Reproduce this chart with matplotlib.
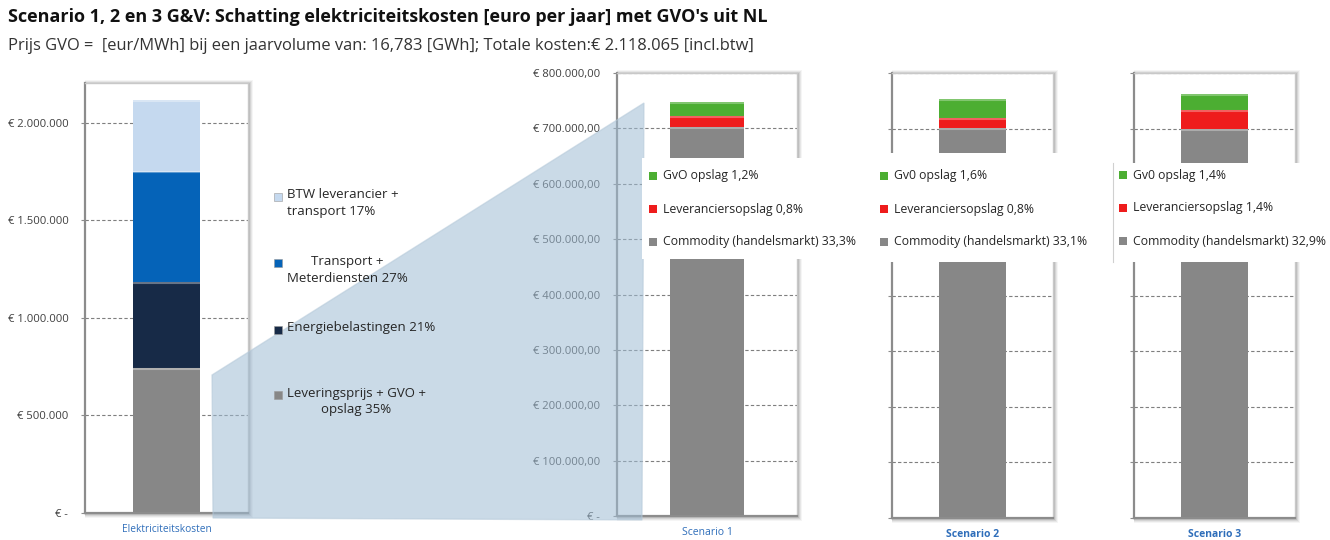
import matplotlib
matplotlib.use("Agg")
from matplotlib import pyplot as plt
from matplotlib.patches import Polygon, Rectangle
from matplotlib.ticker import FuncFormatter, MultipleLocator

plt.rcParams['font.family'] = ['Open Sans', 'DejaVu Sans']

W, H = 1330, 540

# left chart: total cost split (euro per year)
total_labels = ["Leveringsprijs + GVO +\nopslag 35%", "Energiebelastingen 21%",
                "Transport +\nMeterdiensten 27%", "BTW leverancier +\ntransport 17%"]
total_values = [741323, 444794, 565000, 366948]
total_colors = ["#878787", "#172a47", "#0563b8", "#c5d9ef"]
total_category = "Elektriciteitskosten"

# scenario charts
scenarios = ["Scenario 1", "Scenario 2", "Scenario 3"]
commodity = [703000, 702000, 700000]
leverancier = [19000, 18000, 33000]
gvo_opslag = [26000, 34000, 30000]
scen_colors = ["#878787", "#ee1c1c", "#4cae32"]
scen_legends = [
    ["GvO opslag 1,2%", "Leveranciersopslag 0,8%", "Commodity (handelsmarkt) 33,3%"],
    ["Gv0 opslag 1,6%", "Leveranciersopslag 0,8%", "Commodity (handelsmarkt) 33,1%"],
    ["Gv0 opslag 1,4%", "Leveranciersopslag 1,4%", "Commodity (handelsmarkt) 32,9%"],
]

fig = plt.figure(figsize=(W / 100, H / 100), dpi=100)


def px_axes(x0, y0, x1, y1, **kw):
    return fig.add_axes([x0 / W, 1 - y1 / H, (x1 - x0) / W, (y1 - y0) / H], **kw)


def shadow(x0, y0, x1, y1):
    # soft grey shadow behind a chart frame
    for i, a in enumerate([0.10, 0.08, 0.06, 0.04]):
        d = i + 1
        fig.patches.append(Rectangle((x0 / W, 1 - (y1 + d + 1) / H),
                                     (x1 - x0 + d + 1) / W, (y1 - y0 + 2 * d) / H,
                                     transform=fig.transFigure, facecolor="black",
                                     edgecolor="none", alpha=a, zorder=-1))


def style_axes(ax, step):
    ax.set_facecolor("white")
    ax.yaxis.set_major_locator(MultipleLocator(step))
    ax.grid(axis="y", color="#7f7f7f", linestyle=(0, (3, 2)), linewidth=0.8)
    ax.set_axisbelow(True)
    for s in ["left", "bottom"]:
        ax.spines[s].set_color("#8c8c8c")
        ax.spines[s].set_linewidth(1.6)
    for s in ["top", "right"]:
        ax.spines[s].set_color("#c8c8c8")
        ax.spines[s].set_linewidth(1.0)
    ax.tick_params(axis="y", length=3, color="#8c8c8c", labelsize=8.1, labelcolor="#404040", pad=9)
    ax.tick_params(axis="x", length=0, pad=8)
    ax.set_xlim(-0.5, 0.5)


def euro_int(v, pos):
    if v == 0:
        return "€ -"
    return "€ " + f"{v:,.0f}".replace(",", ".")


def euro_dec(v, pos):
    if v == 0:
        return "€ -"
    s = f"{v:,.2f}".replace(",", "X").replace(".", ",").replace("X", ".")
    return "€ " + s


# ---- left chart
shadow(85, 83, 248, 513)
ax0 = px_axes(85, 83, 248, 513)
style_axes(ax0, 500000)
bottom = 0
for v, c in zip(total_values, total_colors):
    ax0.bar(0, v, 0.41, bottom=bottom, color=c, edgecolor="none")
    bottom += v
    # light bevel at the top of each block
    ax0.plot([-0.2, 0.2], [bottom - 5000, bottom - 5000], color="white", alpha=0.35, lw=1.5)
ax0.set_ylim(0, 2205000)
ax0.yaxis.set_major_formatter(FuncFormatter(euro_int))
ax0.set_xticks([0])
ax0.set_xticklabels([total_category], color="#2f6eba", fontsize=7.3)

# ---- scenario charts
frames = [(617, 73, 797, 516), (892, 73, 1053, 518), (1134, 73, 1295, 518)]
for i, (x0, y0, x1, y1) in enumerate(frames):
    shadow(x0, y0, x1, y1)
    ax = px_axes(x0, y0, x1, y1)
    style_axes(ax, 100000)
    parts = [commodity[i], leverancier[i], gvo_opslag[i]]
    b = 0
    for v, c in zip(parts, scen_colors):
        ax.bar(0, v, 0.41, bottom=b, color=c, edgecolor="none")
        b += v
        ax.plot([-0.2, 0.2], [b - 1800, b - 1800], color="white", alpha=0.3, lw=1.5)
    ax.set_ylim(0, 800000)
    if i == 0:
        ax.yaxis.set_major_formatter(FuncFormatter(euro_dec))
    else:
        ax.set_yticklabels([])
    ax.set_xticks([0])
    ax.set_xticklabels([scenarios[i]], color="#2f6eba", fontsize=7.5,
                       fontweight="normal" if i == 0 else "bold")

# ---- overlay: zoom wedge and legends
ov = fig.add_axes([0, 0, 1, 1], zorder=3)
ov.set_xlim(0, W)
ov.set_ylim(H, 0)
ov.axis("off")
ov.patch.set_alpha(0)

ov.add_patch(Polygon([(212, 375), (644, 103), (642, 520), (213, 518)], closed=True,
                     facecolor="#9fbcd4", edgecolor="#b5c9d9", alpha=0.55, lw=1))

# left legend
leg_y = [395, 330, 263, 197]
leg_align = ["center", "left", "center", "left"]
for lab, c, y, al in zip(total_labels, total_colors, leg_y, leg_align):
    ov.add_patch(Rectangle((274, y - 4.5), 8, 8, facecolor=c, edgecolor="#9a9a9a", lw=0.4))
    ov.text(287, y - 8.5, lab, fontsize=9.5, color="#262626", va="top", ha="left",
            multialignment=al, linespacing=1.4)

# scenario legend boxes
boxes = [(642, 158, 865, 259), (865, 153, 1112, 262), (1113, 163, 1330, 262)]
for (bx0, by0, bx1, by1) in boxes:
    ov.add_patch(Rectangle((bx0, by0), bx1 - bx0, by1 - by0, facecolor="white", edgecolor="none"))
ov.plot([1113, 1113], [163, 262], color="#d0d0d0", lw=0.8)

mark_x = [653, 884, 1123]
rows_y = [[176, 209, 242], [176, 209, 242], [175, 208, 241]]
for i in range(3):
    for lab, c, y in zip(scen_legends[i], [scen_colors[2], scen_colors[1], scen_colors[0]], rows_y[i]):
        ov.add_patch(Rectangle((mark_x[i] - 4, y - 4), 8, 8, facecolor=c, edgecolor="none"))
        ov.text(mark_x[i] + 10, y, lab, fontsize=8.8, color="#262626", va="center", ha="left")

# titles
fig.text(8 / W, 1 - 17 / H, "Scenario 1, 2 en 3 G&V: Schatting elektriciteitskosten [euro per jaar] met GVO's uit NL",
         fontsize=13, fontweight="bold", color="#111111", va="center", ha="left")
fig.text(8 / W, 1 - 46 / H, "Prijs GVO =  [eur/MWh] bij een jaarvolume van: 16,783 [GWh]; Totale kosten:€ 2.118.065 [incl.btw]",
         fontsize=11.9, color="#333333", va="center", ha="left")

fig.savefig("out.png", dpi=100)
